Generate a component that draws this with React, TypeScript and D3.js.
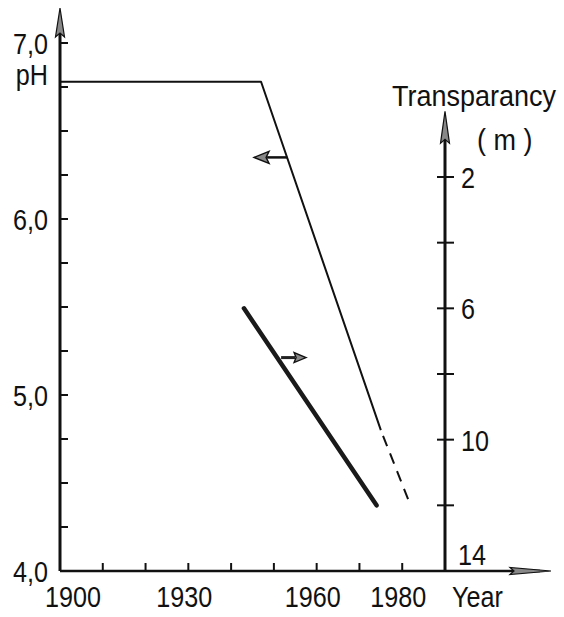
import * as d3 from "d3";

// tick values / labels
const yearTicks = [1900, 1910, 1920, 1930, 1940, 1950, 1960, 1970, 1980, 1990];
const yearLabels = [1900, 1930, 1960, 1980];
const phTicks = [4, 4.25, 4.5, 4.75, 5, 5.25, 5.5, 5.75, 6, 6.25, 6.5, 6.75, 7];
const phLabels = [
  { v: 4, t: "4,0" },
  { v: 5, t: "5,0" },
  { v: 6, t: "6,0" },
  { v: 7, t: "7,0" },
];
const transTicks = [2, 4, 6, 8, 10, 12];
const transLabels = [2, 6, 10, 14];

// series
const phSolid = [
  { year: 1900, ph: 6.78 },
  { year: 1947, ph: 6.78 },
  { year: 1975, ph: 4.8 },
];
const phDashed = [
  { year: 1975, ph: 4.8 },
  { year: 1982, ph: 4.37 },
];
const transparency = [
  { year: 1943, m: 6 },
  { year: 1974, m: 12 },
];

const W = 564;
const H = 617;
const FONT = "'Liberation Sans', Arial, sans-serif";

// lettering is narrow, so squeeze the glyphs horizontally
const Label = ({
  x,
  y,
  anchor = "start",
  sx = 0.84,
  children,
}: {
  x: number;
  y: number;
  anchor?: "start" | "middle" | "end";
  sx?: number;
  children: React.ReactNode;
}) => (
  <text
    transform={`translate(${x},${y}) scale(${sx},1)`}
    textAnchor={anchor}
    fontFamily={FONT}
    fontSize={30}
    fill="#111"
  >
    {children}
  </text>
);

const App = () => {
  const x = d3.scaleLinear().domain([1900, 1990]).range([60, 445]);
  const yPh = d3.scaleLinear().domain([4, 7]).range([571, 43]);
  const yT = d3.scaleLinear().domain([2, 14]).range([177, 571]);

  const phLine = d3
    .line<{ year: number; ph: number }>()
    .x((d) => x(d.year))
    .y((d) => yPh(d.ph));
  const tLine = d3
    .line<{ year: number; m: number }>()
    .x((d) => x(d.year))
    .y((d) => yT(d.m));

  const x0 = x(1900);
  const xR = x(1990);
  const yB = yPh(4);
  const yTop = yPh(7);

  // small arrows beside the curves
  const arrowPhY = yPh(6.35);
  const phAtArrow = 1947 + (6.78 - 6.35) / ((6.78 - 4.8) / 28);
  const arrowPhX = x(phAtArrow);
  const arrowTY = yT(7.5);
  const tAtArrow = 1943 + (7.5 - 6) * (31 / 6);
  const arrowTX = x(tAtArrow) + 4;

  return (
    <svg
      width={W}
      height={H}
      style={{ position: "absolute", left: 0, top: 0, background: "#fff" }}
    >
      {/* left axis */}
      <line x1={x0} y1={yB} x2={x0} y2={yTop - 25} stroke="#111" strokeWidth={3} />
      <polygon
        points={`${x0},${yTop - 35} ${x0 - 4.5},${yTop - 6} ${x0},${yTop - 10} ${x0 + 4.5},${yTop - 6}`}
        fill="#888"
        stroke="#111"
        strokeWidth={1.2}
      />
      {phTicks.map((t) => (
        <line key={t} x1={x0} x2={x0 + 8} y1={yPh(t)} y2={yPh(t)} stroke="#111" strokeWidth={2} />
      ))}
      {phLabels.map((d) => (
        <Label key={d.t} x={48} y={yPh(d.v) + 11} anchor="end">
          {d.t}
        </Label>
      ))}
      <Label x={48} y={85} anchor="end">
        pH
      </Label>

      {/* bottom axis */}
      <line x1={x0} y1={yB} x2={540} y2={yB} stroke="#111" strokeWidth={2.5} />
      <polygon
        points={`${551},${yB} ${510},${yB - 3.5} ${514},${yB} ${510},${yB + 3.5}`}
        fill="#888"
        stroke="#111"
        strokeWidth={1.2}
      />
      {yearTicks.slice(1, -1).map((t) => (
        <line key={t} x1={x(t)} x2={x(t)} y1={yB} y2={yB - 8} stroke="#111" strokeWidth={2} />
      ))}
      {yearLabels.map((t) => (
        <Label key={t} x={t === 1900 ? x(t) + 13 : x(t) - 4} y={607} anchor="middle">
          {t}
        </Label>
      ))}
      <Label x={452} y={607}>
        Year
      </Label>

      {/* right axis */}
      <line x1={xR} y1={yB} x2={xR} y2={yT(0) + 25} stroke="#111" strokeWidth={3} />
      <polygon
        points={`${xR},${yT(0)} ${xR - 4.5},${yT(0) + 32} ${xR},${yT(0) + 28} ${xR + 4.5},${yT(0) + 32}`}
        fill="#888"
        stroke="#111"
        strokeWidth={1.2}
      />
      {transTicks.map((t) => (
        <line key={t} x1={xR - 8} x2={xR + 9} y1={yT(t)} y2={yT(t)} stroke="#111" strokeWidth={2} />
      ))}
      {transLabels.map((t) => (
        <Label key={t} x={t === 14 ? 458 : 461} y={t === 14 ? yT(t) - 6 : yT(t) + 11}>
          {t}
        </Label>
      ))}
      <Label x={392} y={106} sx={0.9}>
        Transparancy
      </Label>
      <Label x={477} y={150} sx={0.9}>
        ( m )
      </Label>

      {/* pH curve */}
      <path
        d={phLine(phSolid) ?? ""}
        fill="none"
        stroke="#111"
        strokeWidth={2}
        strokeLinejoin="round"
      />
      <path
        d={phLine(phDashed) ?? ""}
        fill="none"
        stroke="#111"
        strokeWidth={2}
        strokeDasharray="11,8"
        strokeDashoffset={-6}
      />

      {/* transparency curve */}
      <path
        d={tLine(transparency) ?? ""}
        fill="none"
        stroke="#1a1a1a"
        strokeWidth={4.5}
        strokeLinecap="round"
      />

      {/* arrows pointing to axes */}
      <line
        x1={arrowPhX}
        x2={arrowPhX - 20}
        y1={arrowPhY}
        y2={arrowPhY}
        stroke="#111"
        strokeWidth={2.5}
      />
      <polygon
        points={`${arrowPhX - 33},${arrowPhY} ${arrowPhX - 18},${arrowPhY - 6} ${arrowPhX - 21},${arrowPhY} ${arrowPhX - 18},${arrowPhY + 6}`}
        fill="#888"
        stroke="#111"
        strokeWidth={1.4}
      />
      <line
        x1={arrowTX}
        x2={arrowTX + 14}
        y1={arrowTY}
        y2={arrowTY}
        stroke="#222"
        strokeWidth={3}
      />
      <polygon
        points={`${arrowTX + 25},${arrowTY} ${arrowTX + 13},${arrowTY - 5} ${arrowTX + 15},${arrowTY} ${arrowTX + 13},${arrowTY + 5}`}
        fill="#888"
        stroke="#111"
        strokeWidth={1.4}
      />
    </svg>
  );
};

export default App;
